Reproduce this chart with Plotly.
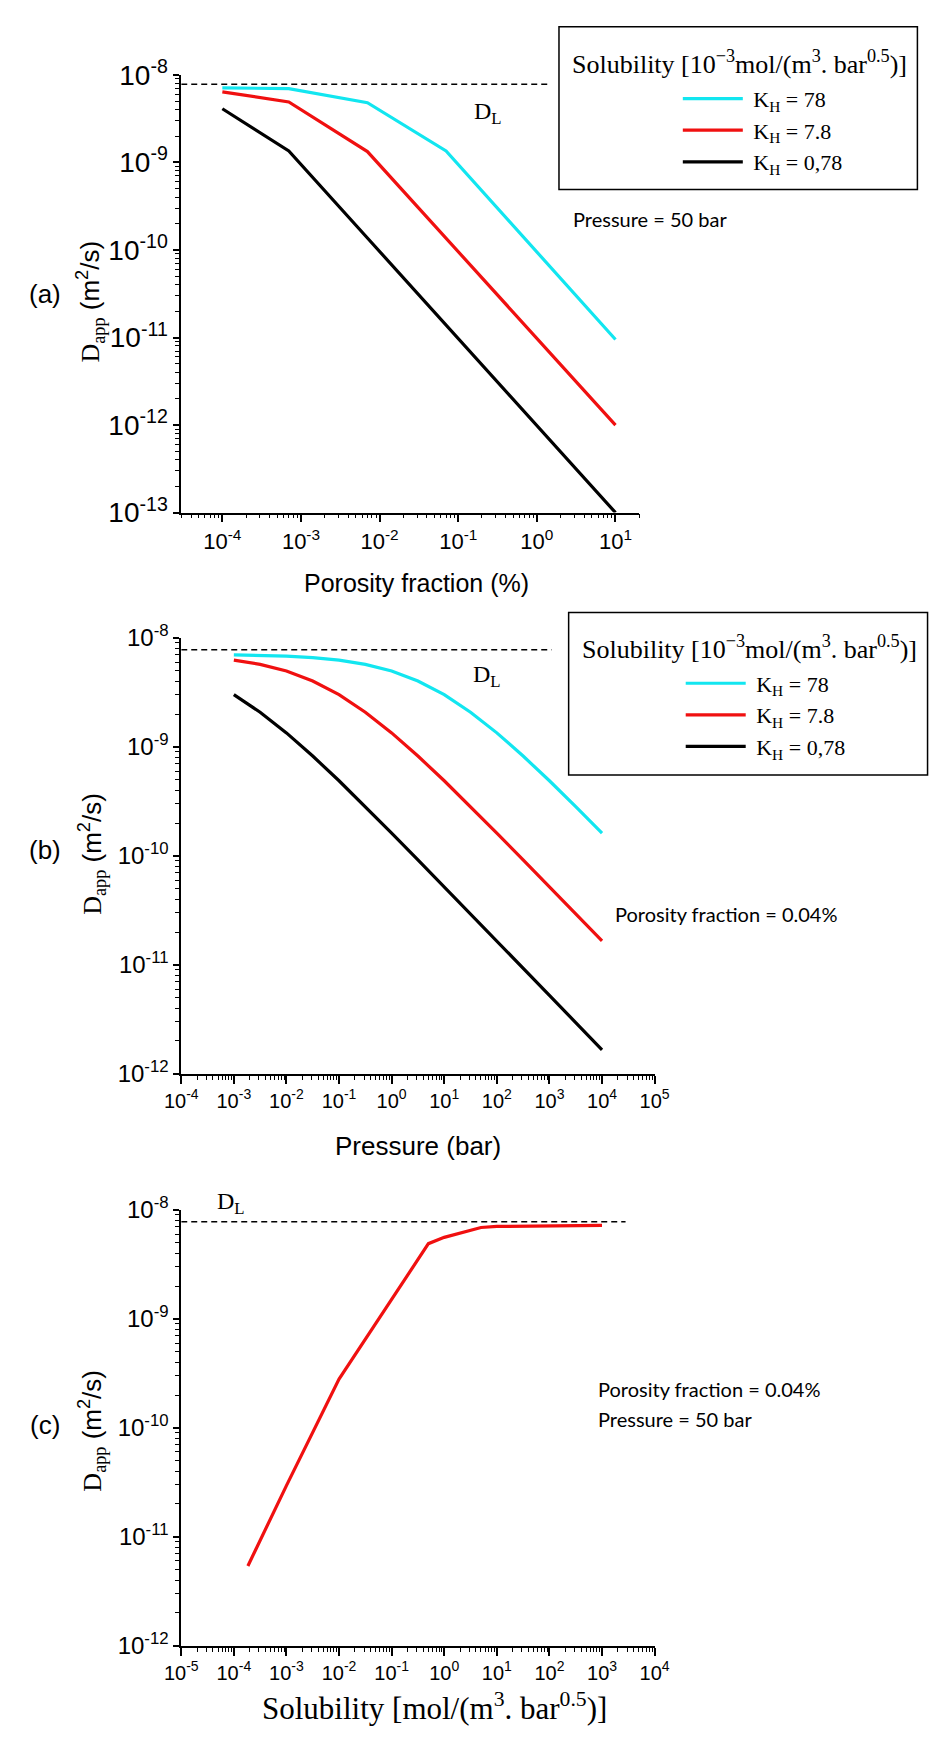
import math
import plotly.graph_objects as go

# ---------------- data ----------------
kh_names = ["\u00a0K<sub>H</sub> = 78", "\u00a0K<sub>H</sub> = 7.8", "\u00a0K<sub>H</sub> = 0,78"]
kh_colors = ["#12E6F0", "#F01010", "#000000"]

# (a) D_app vs porosity fraction (%), P = 50 bar
porosity = [1e-4, 7e-4, 7e-3, 7e-2, 10]
a_kh78 = [7.1e-9, 6.95e-9, 4.8e-9, 1.35e-9, 9.5e-12]
a_kh7_8 = [6.4e-9, 4.9e-9, 1.33e-9, 1.37e-10, 1.0e-12]
a_kh0_78 = [4.1e-9, 1.35e-9, 1.37e-10, 1.38e-11, 1.0e-13]

# (b) D_app vs pressure (bar), porosity 0.04 %
pressure = [1e-3, 3.16e-3, 1e-2, 3.16e-2, 0.1, 0.316, 1, 3.16, 10, 31.6, 100, 316, 1000, 3160, 1e4]
b_kh78 = [7.01e-9, 6.93e-9, 6.81e-9, 6.60e-9, 6.26e-9, 5.72e-9, 4.975e-9, 4.03e-9,
          3.02e-9, 2.08e-9, 1.346e-9, 8.25e-10, 4.89e-10, 2.83e-10, 1.62e-10]
b_kh7_8 = [6.26e-9, 5.72e-9, 4.975e-9, 4.03e-9, 3.02e-9, 2.08e-9, 1.346e-9, 8.25e-10,
           4.89e-10, 2.83e-10, 1.62e-10, 9.2e-11, 5.21e-11, 2.94e-11, 1.66e-11]
b_kh0_78 = [3.02e-9, 2.08e-9, 1.346e-9, 8.25e-10, 4.89e-10, 2.83e-10, 1.62e-10, 9.2e-11,
            5.21e-11, 2.94e-11, 1.66e-11, 9.33e-12, 5.25e-12, 2.95e-12, 1.66e-12]

# (c) D_app vs solubility
solubility = [1.85e-4, 1e-3, 1e-2, 1e-1, 0.5, 1, 5, 10, 100, 1000]
c_dapp = [5.4e-12, 2.95e-11, 2.8e-10, 1.5e-9, 4.9e-9, 5.6e-9, 6.9e-9, 7.05e-9, 7.15e-9, 7.2e-9]

# D_L reference (dashed line) and its horizontal extent per panel
D_L = 7.8e-9
dl_a_x = [3e-5, 1.5]
dl_b_x = [1e-4, 1.1e3]
dl_c_x = [1e-5, 2.8e3]

# ---------------- layout helpers ----------------
W, H = 944, 1744
def px(x):
    return x / W
def py(y):
    return 1 - y / H

SANS = "Liberation Sans"
SERIF = "Liberation Serif"
HUM = "Lato"

def log_axis(lo_exp, hi_exp, rng, fontsize, ticklen=8):
    tv = [10.0 ** e for e in range(lo_exp, hi_exp + 1)]
    tt = ["10<sup>%d</sup>" % e for e in range(lo_exp, hi_exp + 1)]
    lo, hi = rng
    mv = []
    for e in range(lo_exp - 1, hi_exp + 1):
        for m in range(2, 10):
            v = m * 10.0 ** e
            lv = math.log10(v)
            if lo - 1e-9 <= lv <= hi + 1e-9:
                mv.append(v)
    return dict(
        type="log", range=list(rng), showline=True, linecolor="black", linewidth=1.6,
        mirror=False, showgrid=False, zeroline=False,
        ticks="outside", ticklen=ticklen, tickwidth=1.5, tickcolor="black",
        tickmode="array", tickvals=tv, ticktext=tt,
        tickfont=dict(family=SANS, size=fontsize, color="black"),
        minor=dict(ticks="outside", ticklen=4, tickwidth=1, tickcolor="black",
                   tickmode="array", tickvals=mv, showgrid=False),
    )

fig = go.Figure()

# ---------------- panel (a) ----------------
fig.add_trace(go.Scatter(x=dl_a_x, y=[D_L, D_L], mode="lines", showlegend=False,
                         line=dict(color="black", width=1.6, dash="6px,4px"),
                         xaxis="x", yaxis="y", hoverinfo="skip"))
for name, col, ys in zip(kh_names, kh_colors, [a_kh78, a_kh7_8, a_kh0_78]):
    fig.add_trace(go.Scatter(x=porosity, y=ys, mode="lines", name=name,
                             line=dict(color=col, width=3.2),
                             xaxis="x", yaxis="y", legend="legend"))

# ---------------- panel (b) ----------------
fig.add_trace(go.Scatter(x=dl_b_x, y=[D_L, D_L], mode="lines", showlegend=False,
                         line=dict(color="black", width=1.6, dash="6px,4px"),
                         xaxis="x2", yaxis="y2", hoverinfo="skip"))
for name, col, ys in zip(kh_names, kh_colors, [b_kh78, b_kh7_8, b_kh0_78]):
    fig.add_trace(go.Scatter(x=pressure, y=ys, mode="lines", name=name,
                             line=dict(color=col, width=3.2),
                             xaxis="x2", yaxis="y2", legend="legend2"))

# ---------------- panel (c) ----------------
fig.add_trace(go.Scatter(x=dl_c_x, y=[D_L, D_L], mode="lines", showlegend=False,
                         line=dict(color="black", width=1.6, dash="6px,4px"),
                         xaxis="x3", yaxis="y3", hoverinfo="skip"))
fig.add_trace(go.Scatter(x=solubility, y=c_dapp, mode="lines", showlegend=False,
                         name="D_app", line=dict(color=kh_colors[1], width=3.2),
                         xaxis="x3", yaxis="y3"))

# axes
xa = log_axis(-4, 1, (math.log10(3e-5), math.log10(20)), 22)
xa.update(domain=[px(170), px(644)], anchor="y")
ya = log_axis(-13, -8, (-13, -8), 28, ticklen=6)
ya.update(domain=[py(503), py(56)], anchor="x")

xb = log_axis(-4, 5, (-4, 5), 20)
xb.update(domain=[px(170), px(660)], anchor="y2")
yb = log_axis(-12, -8, (-12, -8), 24, ticklen=6)
yb.update(domain=[py(1076), py(631)], anchor="x2")

xc = log_axis(-5, 4, (-5, 4), 20)
xc.update(domain=[px(170), px(660)], anchor="y3")
yc = log_axis(-12, -8, (-12, -8), 24, ticklen=6)
yc.update(domain=[py(1660), py(1215)], anchor="x3")

legend_font = dict(family=SERIF, size=22, color="black")
legend_title = "Solubility [10<sup>−3</sup>mol/(m<sup>3</sup>. bar<sup>0.5</sup>)]"
ytitle = ("<span style=\"font-family:Liberation Serif\">D<sub>app</sub></span>"
          " (m<sup>2</sup>/s)")

annotations = []
def ann(text, x, y, size, family=SANS, xanchor="center", angle=0):
    annotations.append(dict(text=text, x=px(x), y=py(y), xref="paper", yref="paper",
                            xanchor=xanchor, yanchor="middle", showarrow=False,
                            textangle=angle,
                            font=dict(family=family, size=size, color="black")))

# panel labels
ann("(a)", 29, 280, 26)
ann("(b)", 29, 847, 26)
ann("(c)", 29, 1435, 26)
# y titles
ann(ytitle, 76, 287, 26, angle=-90)
ann(ytitle, 78, 851, 26, angle=-90)
ann(ytitle, 78, 1440, 26, angle=-90)
# x titles
ann("Porosity fraction (%)", 413, 575, 25)
ann("Pressure (bar)", 415, 1150, 26)
ann("Solubility [mol/(m<sup>3</sup>. bar<sup>0.5</sup>)]", 432, 1722, 31, family=SERIF)
# D_L labels
ann("D<sub>L</sub>", 488, 95, 24, family=SERIF)
ann("D<sub>L</sub>", 486, 670, 24, family=SERIF)
ann("D<sub>L</sub>", 222, 1208, 24, family=SERIF)
# condition texts
ann("Pressure = 50 bar", 573, 203, 20, family=HUM, xanchor="left")
ann("Porosity fraction = 0.04%", 617, 913, 20, family=HUM, xanchor="left")
ann("Porosity fraction = 0.04%", 599, 1398, 20, family=HUM, xanchor="left")
ann("Pressure = 50 bar", 599, 1428, 20, family=HUM, xanchor="left")
# legend titles
ann(legend_title, 748, 43, 26, family=SERIF)
ann(legend_title, 758, 641, 26, family=SERIF)

shapes = [
    dict(type="rect", xref="paper", yref="paper", x0=px(561), x1=px(932), y0=py(173), y1=py(7),
         line=dict(color="black", width=1.5), fillcolor="rgba(0,0,0,0)"),
    dict(type="rect", xref="paper", yref="paper", x0=px(571), x1=px(942.5), y0=py(771), y1=py(605),
         line=dict(color="black", width=1.5), fillcolor="rgba(0,0,0,0)"),
]

fig.update_layout(
    width=W, height=H, autosize=False,
    margin=dict(l=0, r=0, t=0, b=0),
    paper_bgcolor="white", plot_bgcolor="white",
    xaxis=xa, yaxis=ya, xaxis2=xb, yaxis2=yb, xaxis3=xc, yaxis3=yc,
    annotations=annotations, shapes=shapes,
    legend=dict(x=px(684), y=py(59), xanchor="left", yanchor="top",
                bgcolor="rgba(0,0,0,0)", borderwidth=0, font=legend_font,
                itemwidth=60, tracegroupgap=0),
    legend2=dict(x=px(687), y=py(656), xanchor="left", yanchor="top",
                 bgcolor="rgba(0,0,0,0)", borderwidth=0, font=legend_font,
                 itemwidth=60, tracegroupgap=0),
    font=dict(family=SANS, color="black"),
)

fig.write_html("out.html")
